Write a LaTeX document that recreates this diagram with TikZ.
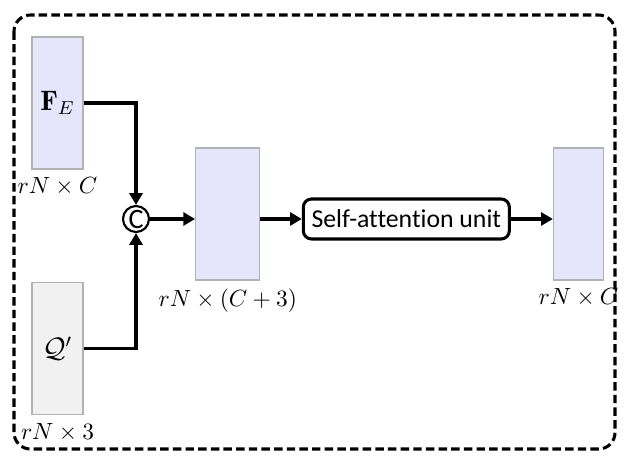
\documentclass[tikz,border=0pt]{standalone}
\usepackage{amsmath,amssymb}
\usepackage{fontspec}
\newfontfamily\calfont[Ligatures=NoCommon]{Carlito}
\usepackage{tikz}
\usetikzlibrary{positioning}
\usetikzlibrary{arrows.meta}
\definecolor{featblue}{RGB}{229,229,251}
\definecolor{querygray}{RGB}{241,241,241}
\tikzset{
	featbox/.style={rectangle,draw=black!30,line width=0.6pt,fill=featblue,minimum width=0.765cm,minimum height=1.98cm,inner sep=0pt,font=\large},
	querybox/.style={featbox,fill=querygray},
	unitbox/.style={rectangle,draw,line width=1.3pt,rounded corners=3.5pt,minimum width=3.09cm,minimum height=0.6cm,font=\calfont\fontsize{11}{13}\selectfont},
	catnode/.style={circle,draw,line width=0.9pt,minimum size=0.39cm,inner sep=0pt,font=\calfont\fontsize{12}{14}\selectfont},
	flow/.style={line width=1.3pt,-{Triangle[length=5pt,width=5.5pt]}}
}
\begin{document}
\begin{tikzpicture}[x=0.015cm,y=-0.015cm]
		\useasboundingbox (0,0) rectangle (630,464);
		\draw[line width=1.3pt,dash pattern=on 3.6pt off 1.8pt,rounded corners=7pt] (14,15) rectangle (615,449);
		
		\node[featbox] at (57.5,103) (fe) {$\mathbf{F}_E$};
		\node [below = 0pt of fe] (fedim) {$rN \times C$};
		\node[querybox,below = 1.68cm of fe] (q) {$\mathcal{Q}'$};
		\node [below = 0pt of q] (qdim) {$rN \times 3$};
		
		\node[catnode] at (136,219) (cat) {C};
		\node[featbox,minimum width=0.96cm,yshift=0.075cm,right = 0.675cm of cat] (cf) {};
		\node [below = 0pt of cf] (cfdim) {$rN \times (C+3)$};
		\node[unitbox,yshift=-0.075cm,right = 0.62cm of cf] (sa) {Self-attention unit};
		\node[featbox,minimum width=0.75cm,yshift=0.075cm,right = 0.63cm of sa] (out) {};
		\node [below = 0pt of out] (outdim) {$rN \times C$};
		
		\draw [flow] (fe.east) -| (cat.north);
		\draw [flow] (q.east) -| (cat.south);
		\draw [flow] (cat) -- (cat -| cf.west);
		\draw [flow] (cat -| cf.east) -- (sa.west);
		\draw [flow] (sa.east) -- (sa -| out.west);
	\end{tikzpicture}
\end{document}
